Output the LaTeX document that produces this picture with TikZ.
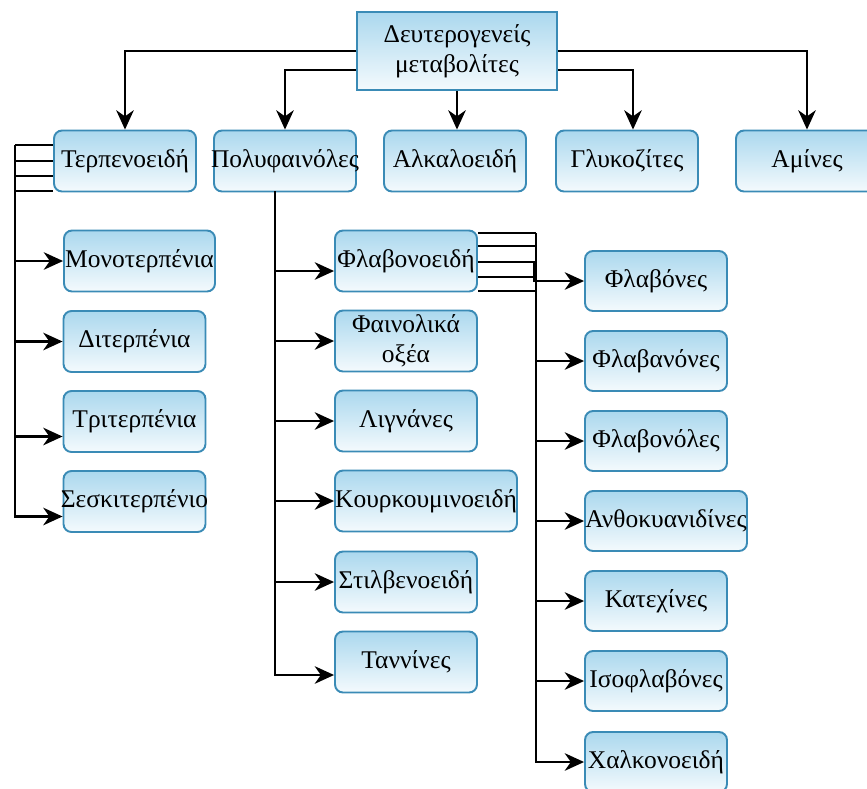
\documentclass[tikz,border=0pt]{standalone}
\usepackage{fontspec}
\setmainfont{Liberation Serif}
\usetikzlibrary{shapes,arrows.meta,calc}
\definecolor{boxtop}{HTML}{ABD8EE}
\definecolor{boxbot}{HTML}{F4FAFD}
\definecolor{boxline}{HTML}{3A8BB6}
\begin{document}
\begin{tikzpicture}[x=0.02cm,y=-0.02cm,
  box/.style={shape=rectangle,rounded corners=0.16cm,draw=boxline,line width=1.1pt,top color=boxtop,bottom color=boxbot,align=center,inner sep=0.5pt,minimum width=2.84cm,minimum height=1.22cm,font=\fontsize{14.5}{17}\selectfont},
  tight/.style={inner xsep=-3pt},
  line/.style={draw=black,line width=1.3pt},
  arr/.style={line,-{Stealth[length=11pt,width=10pt,inset=3.5pt]}}]
\useasboundingbox (0,0) rectangle (867,789);
\node[box,rounded corners=0pt,minimum width=4cm,minimum height=1.56cm] (0) at (457,51) {Δευτερογενείς\\μεταβολίτες};
\node[box] (1) at (125,161) {Τερπενοειδή};
\node[box,tight] (2) at (285,161) {Πολυφαινόλες};
\node[box] (3) at (455,161) {Αλκαλοειδή};
\node[box] (4) at (627,161) {Γλυκοζίτες};
\node[box] (5) at (807,161) {Αμίνες};
\node[box,minimum width=3.02cm] (6) at (139.5,261) {Μονοτερπένια};
\node[box] (7) at (134.5,341.5) {Διτερπένια};
\node[box] (8) at (134.5,421.5) {Τριτερπένια};
\node[box,tight] (9) at (134.5,501.5) {Σεσκιτερπένιο};
\node[box] (10) at (406,261) {Φλαβονοειδή};
\node[box] (11) at (406,341) {Φαινολικά\\οξέα};
\node[box] (12) at (406,421) {Λιγνάνες};
\node[box,tight,minimum width=3.64cm] (13) at (426,501) {Κουρκουμινοειδή};
\node[box] (14) at (406,582) {Στιλβενοειδή};
\node[box] (15) at (406,662) {Ταννίνες};
\node[box,minimum height=1.2cm] (16) at (656,281) {Φλαβόνες};
\node[box,minimum height=1.2cm] (17) at (656,361) {Φλαβανόνες};
\node[box,minimum height=1.2cm] (18) at (656,441) {Φλαβονόλες};
\node[box,tight,minimum height=1.2cm,minimum width=3.24cm] (19) at (666,521) {Ανθοκυανιδίνες};
\node[box,minimum height=1.2cm] (20) at (656,601) {Κατεχίνες};
\node[box,minimum height=1.2cm] (21) at (656,681) {Ισοφλαβόνες};
\node[box,minimum height=1.2cm] (22) at (656,762) {Χαλκονοειδή};

\coordinate (a) at (15,145);
\coordinate (b) at (275,191);
\coordinate (c) at (536,233);
\coordinate (d) at (534,262);

\draw[arr] (0.west) -| (1.north);
\draw[arr] ($(0.west)+(0,19)$) -| (2.north);
\draw[arr] (0.south) -- (0.south |- 3.north);
\draw[arr] ($(0.east)+(0,19)$) -| ($(4.north)+(6,0)$);
\draw[arr] (0.east) -| (5.north);

\foreach \dy in {-16,0,15,30} \draw[line] (a) |- ($(1.west)+(0,\dy)$);
\draw[arr] (a) |- (6.west);
\draw[arr] (a) |- (7.west);
\draw[arr] (a) |- ($(8.west)+(0,15)$);
\draw[arr] (a) |- ($(9.west)+(0,15)$);

\draw[line] (2.south -| b) -- (b);
\draw[arr] (b) |- ($(10.west)+(0,10)$);
\draw[arr] (b) |- (11.west);
\draw[arr] (b) |- (12.west);
\draw[arr] (b) |- (13.west);
\draw[arr] (b) |- (14.west);
\draw[arr] (b) |- ($(15.west)+(0,13)$);

\foreach \dy in {-28,-15,16,30} \draw[line] (c) |- ($(10.east)+(0,\dy)$);
\draw[arr] (10.east |- d) -- (d) |- (16.west);
\draw[arr] (c) |- (17.west);
\draw[arr] (c) |- (18.west);
\draw[arr] (c) |- (19.west);
\draw[arr] (c) |- (20.west);
\draw[arr] (c) |- (21.west);
\draw[arr] (c) |- (22.west);
\end{tikzpicture}
\end{document}
